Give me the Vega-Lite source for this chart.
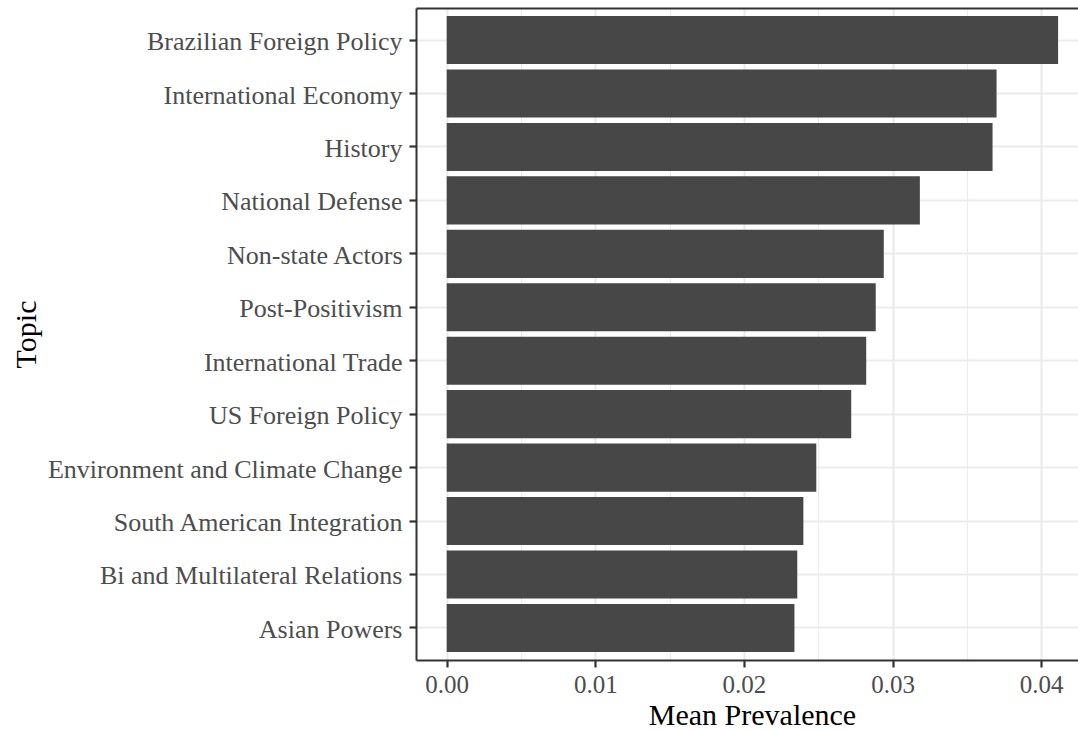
{
  "$schema": "https://vega.github.io/schema/vega-lite/v6.json",
  "width": 662,
  "height": 652,
  "autosize": {"type": "none"},
  "padding": {"left": 416, "top": 8, "right": 0, "bottom": 70},
  "background": "white",
  "config": {
    "view": {"stroke": null},
    "font": "Liberation Serif"
  },
  "data": {
    "values": [
      {"Topic": "Brazilian Foreign Policy", "value": 0.04114},
      {"Topic": "International Economy", "value": 0.03700},
      {"Topic": "History", "value": 0.03673},
      {"Topic": "National Defense", "value": 0.03184},
      {"Topic": "Non-state Actors", "value": 0.02941},
      {"Topic": "Post-Positivism", "value": 0.02887},
      {"Topic": "International Trade", "value": 0.02823},
      {"Topic": "US Foreign Policy", "value": 0.02722},
      {"Topic": "Environment and Climate Change", "value": 0.02487},
      {"Topic": "South American Integration", "value": 0.02400},
      {"Topic": "Bi and Multilateral Relations", "value": 0.02359},
      {"Topic": "Asian Powers", "value": 0.02340}
    ]
  },
  "resolve": {"axis": {"x": "independent"}},
  "layer": [
    {
      "mark": {"type": "bar", "color": "#474747"},
      "encoding": {
        "y": {
          "field": "Topic",
          "type": "nominal",
          "sort": "-x",
          "scale": {"paddingInner": 0.1, "paddingOuter": 0.15},
          "axis": {
            "title": "Topic",
            "titleFontSize": 30,
            "titleFontWeight": "normal",
            "titleColor": "black",
            "titleX": -381,
            "titleBaseline": "alphabetic",
            "labelFontSize": 26,
            "labelColor": "#4D4D4D",
            "labelPadding": 7,
            "labelOffset": 2,
            "labelLimit": 500,
            "tickColor": "#333333",
            "tickWidth": 2.2,
            "tickSize": 7,
            "domainColor": "#333333",
            "domainWidth": 2,
            "grid": true,
            "gridColor": "#EBEBEB",
            "gridWidth": 2.2
          }
        },
        "x": {
          "field": "value",
          "type": "quantitative",
          "scale": {"domain": [-0.002066, 0.04248], "nice": false, "zero": false},
          "axis": {
            "orient": "bottom",
            "title": "Mean Prevalence",
            "titleFontSize": 30,
            "titleFontWeight": "normal",
            "titleColor": "black",
            "titlePadding": 3,
            "titleX": 336,
            "values": [0, 0.01, 0.02, 0.03, 0.04],
            "format": ".2f",
            "labelFontSize": 25,
            "labelColor": "#4D4D4D",
            "labelPadding": 5,
            "tickColor": "#333333",
            "tickWidth": 2.2,
            "tickSize": 7,
            "domainColor": "#333333",
            "domainWidth": 2,
            "grid": true,
            "gridColor": "#EBEBEB",
            "gridWidth": 2.2
          }
        }
      }
    },
    {
      "mark": {"type": "point", "opacity": 0},
      "encoding": {
        "y": {"field": "Topic", "type": "nominal", "sort": "-x"},
        "x": {
          "field": "value",
          "type": "quantitative",
          "axis": {
            "orient": "top",
            "title": null,
            "labels": false,
            "ticks": false,
            "values": [0.005, 0.015, 0.025, 0.035],
            "domainColor": "#333333",
            "domainWidth": 2,
            "grid": true,
            "gridColor": "#EBEBEB",
            "gridWidth": 1.1
          }
        }
      }
    }
  ]
}
